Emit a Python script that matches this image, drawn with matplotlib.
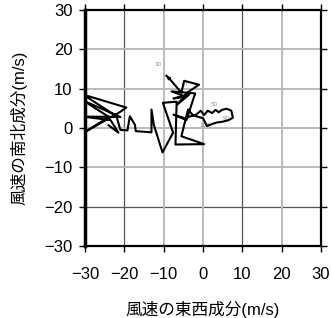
import matplotlib
matplotlib.use("Agg")
import matplotlib.pyplot as plt

plt.rcParams['font.family'] = ['Liberation Sans', 'Noto Sans CJK JP', 'DejaVu Sans']
plt.rcParams['axes.unicode_minus'] = True

# hodograph: east-west (u) and north-south (v) wind components, m/s
u = [-24.0, -21.5, -23.5, -30.5, -21.0, -30.5, -23.9, -30.5, -21.2, -19.5,
     -30.5, -22.0, -21.0, -19.2, -18.6, -17.3, -17.1, -13.1, -13.1, -12.5,
     -10.3, -7.6, -10.2, -6.7, -7.0, 0.3, -5.5, -3.8, -2.5, -1.6, -0.6, 0.3,
     1.2, 2.3, 3.2, 4.0, 4.8, 6.0, 7.2, 7.6, 6.5, 5.0, 3.5, 2.0, 1.0, 0.0,
     -2.5, -4.7, -7.5, -4.2, -2.0, -8.0, -4.5, -7.5, -3.5, -6.5, -4.0, -1.0,
     -4.8, -5.5, -8.5, -9.3]
v = [0.7, -1.2, 2.0, 2.9, 2.8, 7.0, 2.8, -1.3, 4.0, 5.2,
     8.5, 3.0, -0.5, -0.6, 3.0, 0.8, -0.8, -1.1, 4.7, 0.8,
     -6.2, -1.2, 6.4, 6.7, -4.2, -4.1, -2.1, 4.7, 3.2, 3.5, 4.4, 3.3,
     4.4, 3.8, 4.6, 4.0, 4.6, 4.9, 4.4, 2.6, 2.0, 1.6, 1.4, 0.9, 0.5, 2.5,
     3.2, 2.5, 3.4, 2.0, 8.8, 9.3, 8.0, 7.5, 8.5, 6.0, 9.0, 11.0,
     12.0, 9.0, 12.5, 13.3]

label_text = ["30", "50", "70", "90", "100"]
label_u = [-11.4, 2.8, -4.7, 5.8, 0.5]
label_v = [16.1, 6.1, 11.0, 2.3, 0.6]

ticks = [-30, -20, -10, 0, 10, 20, 30]
dark_x = [-20, 10]
dark_y = [-20]

fig = plt.figure(figsize=(3.31, 3.18), dpi=100)
ax = fig.add_axes([85 / 331, 1 - 246 / 318, 236 / 331, 236 / 318])

for t in ticks[1:-1]:
    if t in dark_x:
        ax.axvline(t, color="#555555", lw=0.9, zorder=1)
    else:
        ax.axvline(t, color="#bbbbbb", lw=1.4, zorder=1)
    if t in dark_y:
        ax.axhline(t, color="#555555", lw=0.9, zorder=1)
    else:
        ax.axhline(t, color="#bbbbbb", lw=1.4, zorder=1)

ax.plot(u, v, color="black", lw=1.5, zorder=3)
ax.annotate("", xy=(u[-1], v[-1]), xytext=(u[-2], v[-2]),
            arrowprops=dict(arrowstyle="-|>", color="black", lw=1.0,
                            mutation_scale=5), zorder=4)

for t, x, y in zip(label_text, label_u, label_v):
    ax.text(x, y, t, fontsize=4.5, color="#999999", ha="center", va="center", zorder=2)

ax.set_xlim(-30, 30)
ax.set_ylim(-30, 30)
ax.set_xticks(ticks)
ax.set_yticks(ticks)
ax.tick_params(direction="out", length=4, width=1, labelsize=12,
               top=True, right=True)
ax.tick_params(axis="x", pad=11)
ax.tick_params(axis="y", pad=5)
for side in ["top", "bottom", "right"]:
    ax.spines[side].set_linewidth(1.6)
ax.spines["left"].set_linewidth(2.5)

ax.set_xlabel("風速の東西成分(m/s)", fontsize=12, labelpad=14)
ax.set_ylabel("風速の南北成分(m/s)", fontsize=12, labelpad=12)

fig.savefig("out.png", dpi=100)
